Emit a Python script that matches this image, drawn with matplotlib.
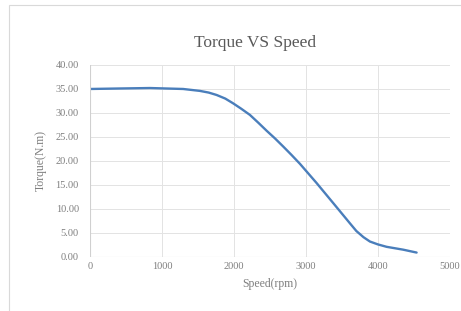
import numpy as np
import matplotlib
matplotlib.use("Agg")
import matplotlib.pyplot as plt
from matplotlib.patches import Rectangle

plt.rcParams["font.family"] = ["Liberation Serif", "DejaVu Serif"]

speed = [0, 400, 833, 1296, 1528, 1650, 1760, 1880, 1990, 2100, 2222, 2340, 2454,
         2570, 2685, 2800, 2917, 3148, 3380, 3611, 3700, 3800, 3889, 4000, 4120, 4352, 4537]
torque = [35.0, 35.1, 35.2, 35.0, 34.6, 34.25, 33.75, 33.0, 32.0, 30.9, 29.6, 27.95, 26.3,
          24.7, 23.0, 21.25, 19.4, 15.4, 11.2, 7.0, 5.4, 4.1, 3.2, 2.6, 2.1, 1.5, 0.9]

xticks = [0, 1000, 2000, 3000, 4000, 5000]
yticks = np.arange(0, 45, 5)

fig = plt.figure(figsize=(4.61, 3.11), dpi=100)
fig.patches.append(Rectangle((0.02, -0.01), 0.99, 0.995, transform=fig.transFigure,
                             fill=False, ec="#d9d9d9", lw=0.8))
ax = fig.add_axes([0.195, 0.174, 0.781, 0.617])

ax.plot(speed, torque, color="#4a7ebb", lw=1.7, solid_joinstyle="round", solid_capstyle="round")

ax.set_xlim(0, 5000)
ax.set_ylim(0, 40)
ax.set_xticks(xticks)
ax.set_yticks(yticks)
ax.set_yticklabels([f"{v:.2f}" for v in yticks])
ax.tick_params(length=0, labelsize=7.5, colors="#7f7f7f")
ax.tick_params(axis="y", pad=8)
ax.tick_params(axis="x", pad=4)
ax.grid(True, color="#e3e3e3", lw=0.7)
for s in ax.spines.values():
    s.set_visible(False)
ax.axhline(0, color="#d0d0d0", lw=0.8)
ax.axvline(0, color="#d0d0d0", lw=0.8)

ax.set_xlabel("Speed(rpm)", fontsize=8.5, color="#7f7f7f", labelpad=5)
ax.set_ylabel("Torque(N.m)", fontsize=8.5, color="#7f7f7f", labelpad=6)
fig.text(0.553, 0.862, "Torque VS Speed", ha="center", va="center", fontsize=12.5, color="#595959")

fig.savefig("out.png", dpi=100)
